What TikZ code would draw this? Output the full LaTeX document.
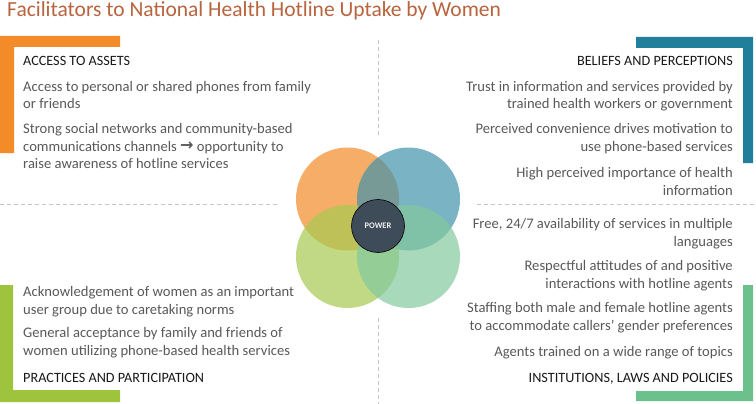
\documentclass[tikz,border=0pt]{standalone}
\usepackage{fontspec}
\setmainfont{Carlito}
\newfontfamily\arrowfont{DejaVu Sans}
\usetikzlibrary{calc}

\definecolor{titlebrown}{RGB}{184,100,62}
\definecolor{bodygray}{RGB}{89,89,89}
\definecolor{assetorange}{RGB}{243,139,40}
\definecolor{beliefteal}{RGB}{32,128,156}
\definecolor{practgreen}{RGB}{157,196,60}
\definecolor{instgreen}{RGB}{108,192,140}
\definecolor{powerfill}{RGB}{62,75,88}

\tikzset{
  head/.style={inner sep=0pt, text=black!90, font=\fontsize{14.2}{17}\selectfont},
  bodyL/.style={inner sep=0pt, text=bodygray, align=left, font=\fontsize{14.6}{17.5}\selectfont},
  bodyR/.style={inner sep=0pt, text=bodygray, align=right, font=\fontsize{14.6}{17.5}\selectfont},
  divider/.style={gray!45, line width=0.6pt, dash pattern=on 4pt off 3pt},
  petal/.style={fill opacity=0.7, draw=none}
}

\begin{document}
\begin{tikzpicture}[x=1pt, y=-1pt, line join=round]
    \fill[white] (0,0) rectangle (756,404);
    \useasboundingbox (0,0) rectangle (756,404);

    % 标题
    \node[anchor=base west, inner sep=0pt, text=titlebrown, font=\fontsize{21.5}{24}\selectfont]
        (title) at (7,17) {Facilitators to National Health Hotline Uptake by Women};

    % 分隔虚线
    \draw[divider] (0,204) -- (278,204);
    \draw[divider] (477,204) -- (756,204);
    \draw[divider] (378,40) -- (378,137);
    \draw[divider] (378,318) -- (378,404);

    % 四角色块
    \fill[assetorange] (0,36) -- (120,36) -- (120,47) -- (14,47) -- (14,153) -- (0,153) -- cycle;
    \fill[beliefteal] (636,37) -- (753,37) -- (753,163) -- (743,163) -- (743,48) -- (636,48) -- cycle;
    \fill[practgreen] (0,285) -- (13,285) -- (13,390) -- (120,390) -- (120,402) -- (0,402) -- cycle;
    \fill[instgreen] (753,285) -- (753,401) -- (636,401) -- (636,391) -- (743,391) -- (743,285) -- cycle;

    % 中心四圆
    \coordinate (O1) at (347.5,199);
    \coordinate (O2) at (408.5,199);
    \coordinate (O3) at (347.5,256.5);
    \coordinate (O4) at (408.5,256.5);
    \fill[petal, assetorange] (O1) circle[radius=51.5pt];
    \fill[petal, beliefteal!85] (O2) circle[radius=51.5pt];
    \fill[petal, practgreen!90] (O3) circle[radius=51.5pt];
    \fill[petal, instgreen!85] (O4) circle[radius=51.5pt];
    \node[circle, minimum size=53pt, inner sep=0pt, fill=powerfill, draw=black, line width=0.6pt,
          text=white!88!gray, font=\fontsize{8.5}{10}\selectfont\bfseries] (power) at (378,226) {POWER};

    % 左上：ACCESS TO ASSETS（base = 末行基线）
    \node[head, anchor=base west] (assetHead) at (23,66) {ACCESS TO ASSETS};
    \node[bodyL, anchor=base west] (asset1) at (23,109) {Access to personal or shared phones from family\\or friends};
    \node[bodyL, anchor=base west] (asset2) at (23,168.5) {Strong social networks and community-based\\communications channels {\arrowfont\bfseries\fontsize{16}{17.5}\selectfont\raisebox{0.5pt}{→}} opportunity to\\raise awareness of hotline services};

    % 右上：BELIEFS AND PERCEPTIONS
    \node[head, anchor=base east] (beliefHead) at (733,66) {BELIEFS AND PERCEPTIONS};
    \node[bodyR, anchor=base east] (belief1) at (733,109) {Trust in information and services provided by\\trained health workers or government};
    \node[bodyR, anchor=base east] (belief2) at (733,151) {Perceived convenience drives motivation to\\use phone-based services};
    \node[bodyR, anchor=base east] (belief3) at (733,195) {High perceived importance of health\\information};

    % 左下：PRACTICES AND PARTICIPATION
    \node[bodyL, anchor=base west] (pract1) at (23,314) {Acknowledgement of women as an important\\user group due to caretaking norms};
    \node[bodyL, anchor=base west] (pract2) at (23,355) {General acceptance by family and friends of\\women utilizing phone-based health services};
    \node[head, anchor=base west] (practHead) at (23,382.5) {PRACTICES AND PARTICIPATION};

    % 右下：INSTITUTIONS, LAWS AND POLICIES
    \node[bodyR, anchor=base east] (inst1) at (733,246) {Free, 24/7 availability of services in multiple\\languages};
    \node[bodyR, anchor=base east] (inst2) at (733,288) {Respectful attitudes of and positive\\interactions with hotline agents};
    \node[bodyR, anchor=base east] (inst3) at (733,330) {Staffing both male and female hotline agents\\to accommodate callers’ gender preferences};
    \node[bodyR, anchor=base east] (inst4) at (733,356.5) {Agents trained on a wide range of topics};
    \node[head, anchor=base east] (instHead) at (733,382.5) {INSTITUTIONS, LAWS AND POLICIES};
\end{tikzpicture}
\end{document}
